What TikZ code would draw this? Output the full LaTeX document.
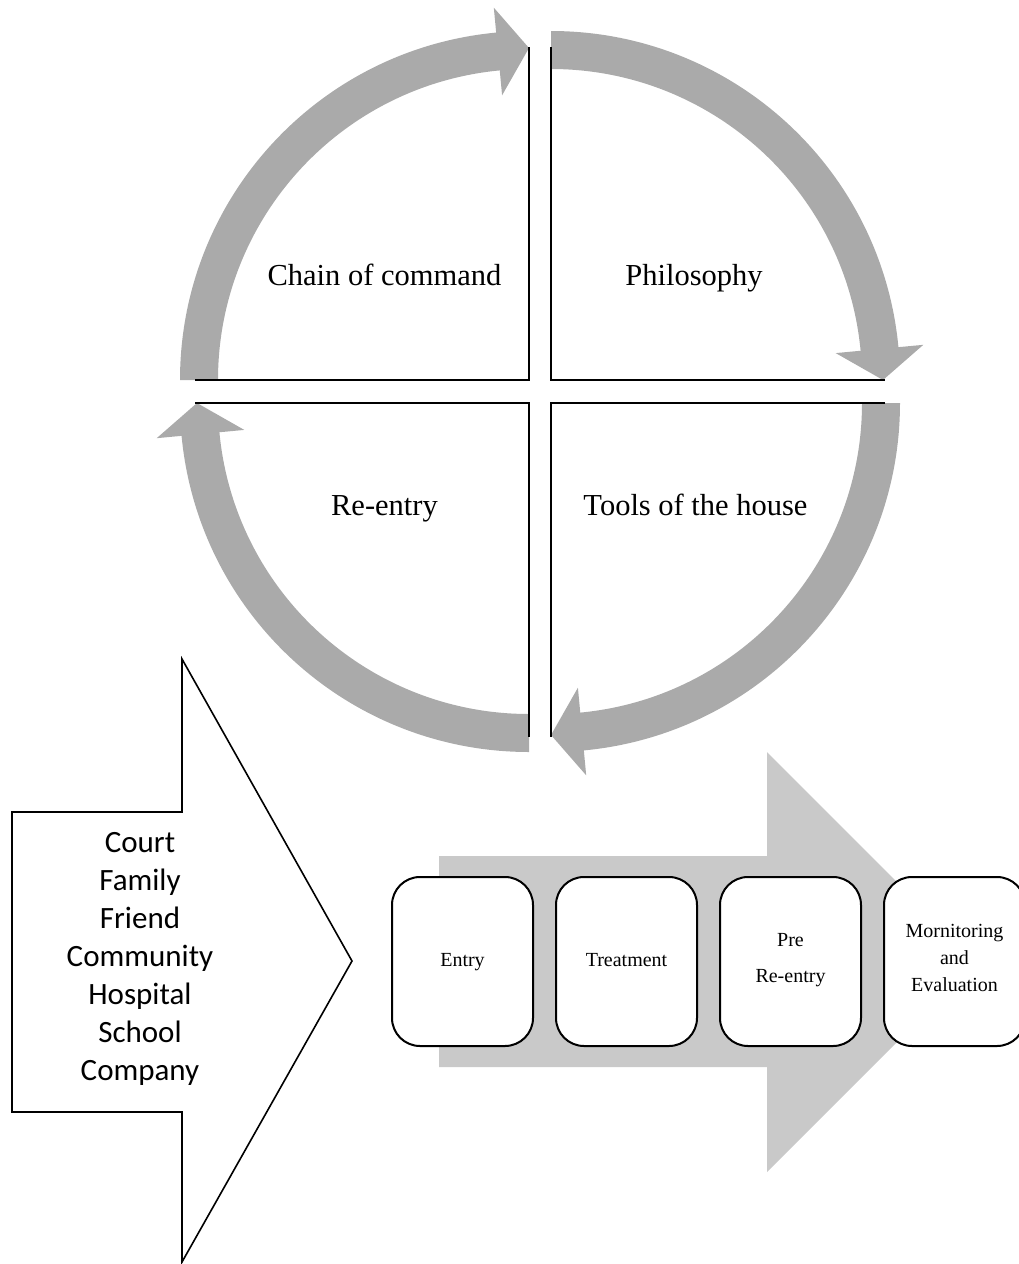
\documentclass[tikz,border=0pt]{standalone}
\usepackage{fontspec}
\setmainfont{Liberation Serif}
\newfontfamily\calibri{Carlito}
\usetikzlibrary{positioning}
\definecolor{ringgray}{RGB}{170,170,170}
\definecolor{flowgray}{RGB}{201,201,201}
\begin{document}
\begin{tikzpicture}[x=1pt,y=-1pt]
\tikzstyle{stage}=[draw,line width=2pt,rounded corners=28pt,fill=white,minimum width=141pt,minimum height=169pt,align=center,inner sep=0pt,font=\fontsize{20}{27}\selectfont,execute at begin node=\strut]
\tikzstyle{quad}=[font=\fontsize{30.5}{36}\selectfont,anchor=base]
\useasboundingbox (0,0) rectangle (1018,1264);

% ring of four arrows
\foreach \cx/\cy/\a in {529/380/180, 551/380/270, 551/403/0, 529/403/90}
\fill[ringgray,shift={(\cx,\cy)}] (\a:311) arc[start angle=\a,delta angle=84.6,radius=311]
  -- ({\a+84.6}:286) -- ({\a+90}:332) -- ({\a+84.6}:374) -- ({\a+84.6}:349)
  arc[start angle=\a+84.6,delta angle=-84.6,radius=349] -- cycle;

\draw[line width=1.4pt] (195,380) -- (529,380) -- (529,47);
\draw[line width=1.4pt] (551,47) -- (551,380) -- (885,380);
\draw[line width=1.4pt] (195,403) -- (529,403) -- (529,737);
\draw[line width=1.4pt] (885,403) -- (551,403) -- (551,737);

\node[quad] (chain) at (384.5,285) {Chain of command};
\node[quad] (philo) at (694,285) {Philosophy};
\node[quad] (reent) at (384.5,515) {Re-entry};
\node[quad] (tools) at (695.5,515) {Tools of the house};

% where clients come from
\draw[line width=1.6pt] (12,812) -- (182,812) -- (182,659) -- (352,961) -- (182,1262) -- (182,1112) -- (12,1112) -- cycle;
\node[font=\calibri\fontsize{31}{38}\selectfont,align=center] (src) at (140,959) {Court\\Family\\Friend\\Community\\Hospital\\School\\Company};

% program stages
\fill[flowgray] (439,856) -- (767,856) -- (767,752) -- (977,962) -- (767,1172) -- (767,1067) -- (439,1067) -- cycle;

\node[stage] (entry) at (462.5,961.5) {Entry};
\node[stage,right=21pt of entry] (treat) {Treatment};
\node[stage,right=21pt of treat] (pre) {Pre\\[9pt]Re-entry};
\node[stage,right=21pt of pre] (monit) {Mornitoring\\and\\Evaluation};

\end{tikzpicture}
\end{document}
